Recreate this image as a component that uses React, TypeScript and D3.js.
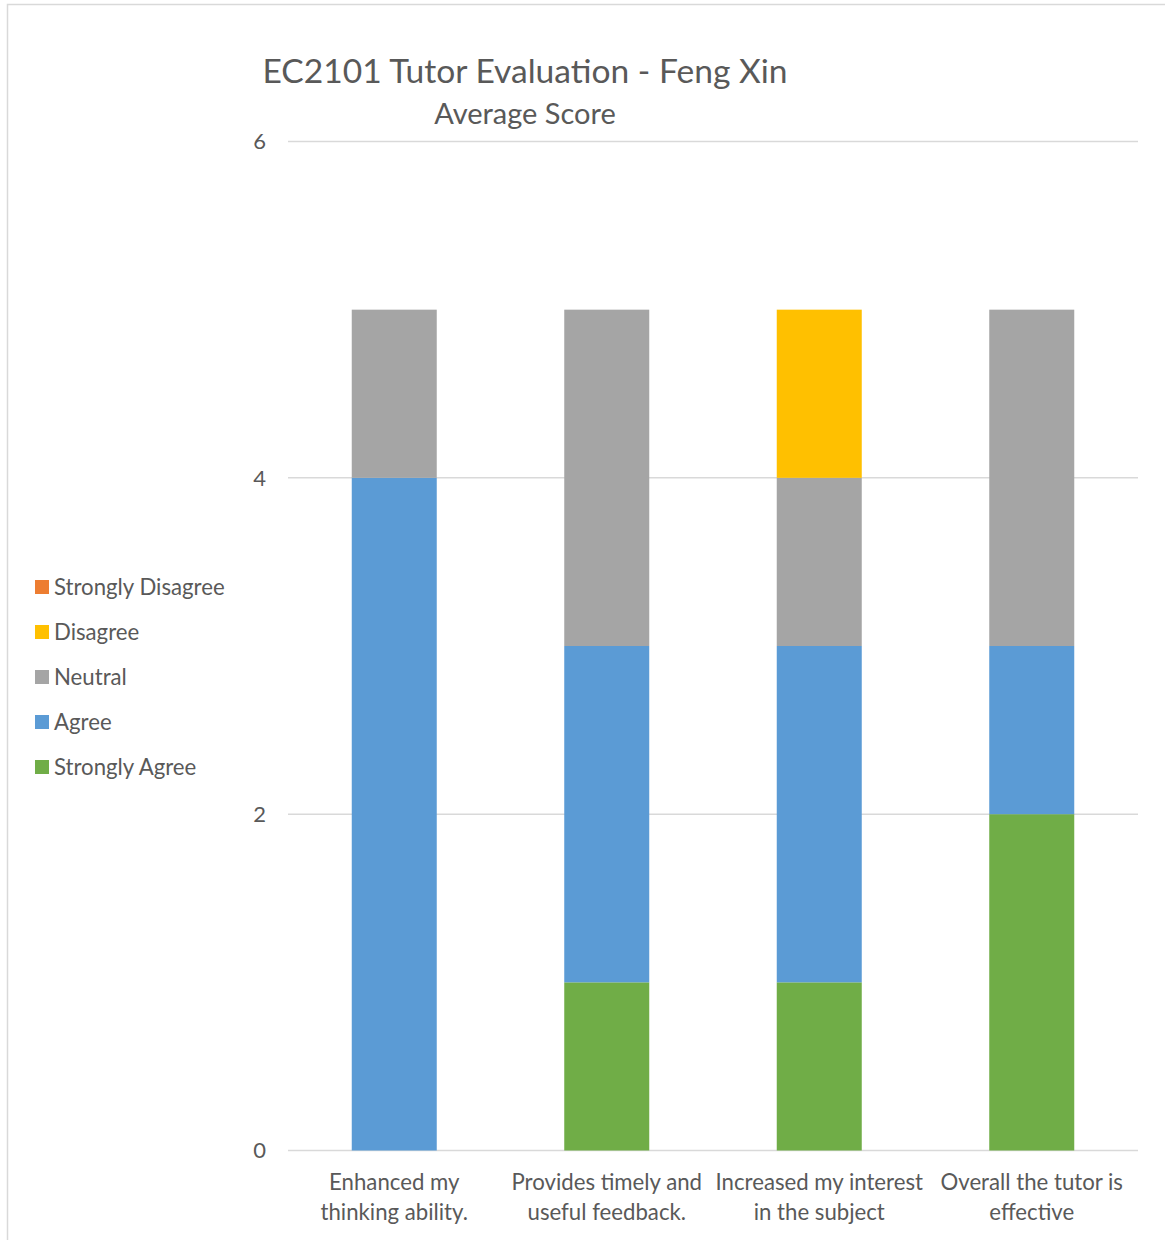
import React from "react";
import * as d3 from "d3";

const categories = [
  ["Enhanced my", "thinking ability."],
  ["Provides timely and", "useful feedback."],
  ["Increased my interest", "in the subject"],
  ["Overall the tutor is", "effective"],
];
const seriesNames = ["Strongly Agree", "Agree", "Neutral", "Disagree", "Strongly Disagree"];
const stronglyAgree = [0, 1, 1, 2];
const agree = [4, 2, 2, 1];
const neutral = [1, 2, 1, 2];
const disagree = [0, 0, 1, 0];
const stronglyDisagree = [0, 0, 0, 0];
const colors = ["#70AD47", "#5B9BD5", "#A5A5A5", "#FFC000", "#ED7D31"];
const yTicks = [0, 2, 4, 6];

const FONT = "Lato, 'Open Sans', sans-serif";
const TXT = "#595959";

export default function App() {
  const W = 1165, H = 1240;
  const left = 288, right = 1138, top = 141.5, bottom = 1150.5;
  const values = [stronglyAgree, agree, neutral, disagree, stronglyDisagree];
  const rows = categories.map((_, i) => {
    const r: any = { i };
    seriesNames.forEach((s, k) => (r[s] = values[k][i]));
    return r;
  });
  const stack = d3.stack<any>().keys(seriesNames)(rows);
  const x = d3.scaleBand<number>().domain(categories.map((_, i) => i)).range([left, right]).paddingInner(0.6).paddingOuter(0.3);
  const y = d3.scaleLinear().domain([0, 6]).range([bottom, top]);
  const legendOrder = [...seriesNames].reverse();

  return (
    <svg width={W} height={H} style={{ position: "absolute", left: 0, top: 0 }} fontFamily={FONT}>
      <rect x={0} y={0} width={W} height={H} fill="#fff" />
      <rect x={7.5} y={4.5} width={W + 20} height={H + 20} fill="none" stroke="#d9d9d9" strokeWidth={1.5} />
      <text x={525} y={83} textAnchor="middle" fontSize={33.6} fill={TXT}>EC2101 Tutor Evaluation - Feng Xin</text>
      <text x={525} y={124} textAnchor="middle" fontSize={29} fill={TXT}>Average Score</text>
      {yTicks.map((t) => (
        <g key={t}>
          <line x1={left} x2={right} y1={y(t)} y2={y(t)} stroke="#d9d9d9" strokeWidth={1.5} />
          <text x={266} y={y(t)} dy="0.35em" textAnchor="end" fontSize={22} fill={TXT}>{t}</text>
        </g>
      ))}
      {stack.map((layer, k) => (
        <g key={layer.key} fill={colors[k]}>
          {layer.map((d, i) =>
            d[1] - d[0] > 0 ? (
              <rect key={i} x={x(i)} width={x.bandwidth()} y={y(d[1])} height={y(d[0]) - y(d[1])} />
            ) : null
          )}
        </g>
      ))}
      {categories.map((lines, i) => (
        <text key={i} x={(x(i) as number) + x.bandwidth() / 2} textAnchor="middle" fontSize={22.2} fill={TXT}>
          {lines.map((l, j) => (
            <tspan key={j} x={(x(i) as number) + x.bandwidth() / 2} y={1190 + j * 30}>{l}</tspan>
          ))}
        </text>
      ))}
      {legendOrder.map((s, j) => {
        const k = seriesNames.indexOf(s);
        const cy = 587 + j * 45;
        return (
          <g key={s}>
            <rect x={35} y={cy - 7} width={14} height={14} fill={colors[k]} />
            <text x={54} y={cy} dy="0.35em" fontSize={22.2} fill={TXT}>{s}</text>
          </g>
        );
      })}
    </svg>
  );
}
